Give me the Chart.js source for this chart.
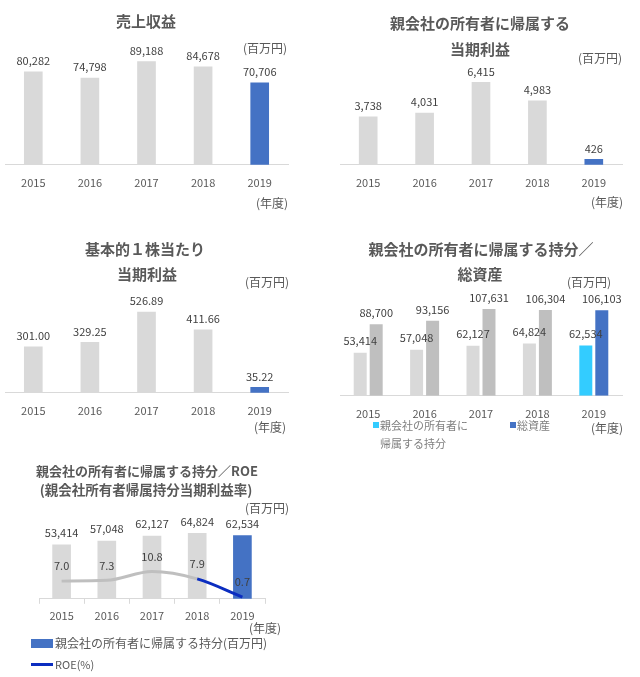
<!DOCTYPE html>
<html lang="ja">
<head>
<meta charset="UTF-8">
<title>業績ハイライト</title>
<script src="https://cdn.jsdelivr.net/npm/chart.js"></script>
<style>
    body { margin: 0; background: #fff; font-family: 'Noto Sans CJK JP', 'Noto Sans', sans-serif; }
    #page { position: relative; width: 640px; height: 677px; overflow: hidden; }
    canvas { position: absolute; }
    .t { position: absolute; width: 300px; text-align: center; line-height: 1; white-space: nowrap; color: #595959; }
    .title { font-size: 15px; font-weight: bold; }
    .unit { font-size: 12px; }
    .lg { position: absolute; line-height: 1; white-space: nowrap; color: #7f7f7f; font-size: 11px; }
    .box { position: absolute; }
</style>
</head>
<body>
<div id="page">
    <canvas id="c1" width="300" height="200" style="left:0;top:0"></canvas>
    <canvas id="c2" width="320" height="200" style="left:320px;top:0"></canvas>
    <canvas id="c3" width="300" height="203" style="left:0;top:225px"></canvas>
    <canvas id="c4" width="320" height="206" style="left:320px;top:225px"></canvas>
    <canvas id="c5" width="300" height="172" style="left:0;top:455px"></canvas>
</div>

<script>
    // データ
    const years = ['2015', '2016', '2017', '2018', '2019'];
    const revenue = [80282, 74798, 89188, 84678, 70706];       // 売上収益
    const netIncome = [3738, 4031, 6415, 4983, 426];            // 親会社の所有者に帰属する当期利益
    const eps = [301.00, 329.25, 526.89, 411.66, 35.22];        // 基本的1株当たり当期利益
    const equity = [53414, 57048, 62127, 64824, 62534];         // 親会社の所有者に帰属する持分
    const totalAssets = [88700, 93156, 107631, 106304, 106103]; // 総資産
    const roe = [7.0, 7.3, 10.8, 7.9, 0.7];                     // ROE(%)

    const FONT = "'Noto Sans CJK JP', 'Noto Sans', sans-serif";
    Chart.defaults.font.family = FONT;
    Chart.defaults.color = '#595959';
    Chart.defaults.animation = false;

    const GRAY = '#d9d9d9';
    const GRAY2 = '#bfbfbf';
    const BLUE = '#4472c4';
    const CYAN = '#33ccff';
    const NAVY = '#0b2dc0';

    const page = document.getElementById('page');

    function addText(txt, cx, cy, cls, size) {
        var d = document.createElement('div');
        d.className = 't ' + cls;
        d.textContent = txt;
        d.style.left = (cx - 150) + 'px';
        d.style.top = (cy - size / 2) + 'px';
        if (cls == 'title' && size != 15) d.style.fontSize = size + 'px';
        page.appendChild(d);
    }

    // 値ラベル（バーの上に数値）
    const valueLabels = {
        id: 'valueLabels',
        afterDatasetsDraw(chart, args, opts) {
            const ctx = chart.ctx;
            ctx.save();
            ctx.font = (opts.size || 11) + 'px ' + FONT;
            ctx.fillStyle = '#404040';
            ctx.textAlign = 'center';
            ctx.textBaseline = 'middle';
            chart.data.datasets.forEach(function (ds, i) {
                const meta = chart.getDatasetMeta(i);
                const off = opts.offsets ? opts.offsets[i] : 12;
                meta.data.forEach(function (el, j) {
                    ctx.fillText(opts.format(ds.data[j], i), el.x, el.y - off);
                });
            });
            ctx.restore();
        }
    };
    Chart.register(valueLabels);

    const intFmt = v => v.toLocaleString('en-US');
    const highlight = (base, last) => years.map((y, i) => i === years.length - 1 ? last : base);

    function xAxis(pad) {
        return {
            grid: { display: false, drawTicks: false },
            border: { display: true, color: GRAY },
            ticks: { padding: pad, font: { size: 11 }, color: '#595959' }
        };
    }

    function simpleBar(id, values, max, padding, fmt) {
        new Chart(document.getElementById(id), {
            type: 'bar',
            data: {
                labels: years,
                datasets: [{
                    data: values,
                    backgroundColor: highlight(GRAY, BLUE),
                    barThickness: 18
                }]
            },
            options: {
                responsive: false,
                layout: { padding: padding },
                plugins: {
                    legend: { display: false },
                    tooltip: { enabled: false },
                    valueLabels: { format: fmt, offsets: [11] }
                },
                scales: {
                    x: xAxis(11),
                    y: { display: false, min: 0, max: max }
                }
            }
        });
    }

    // 1. 売上収益
    simpleBar('c1', revenue, 100000, { top: 49, left: 5, right: 12, bottom: 0 }, intFmt);
    addText('売上収益', 146, 20, 'title', 15);
    addText('(百万円)', 265, 48, 'unit', 12);
    addText('(年度)', 272, 203, 'unit', 12);

    // 2. 親会社の所有者に帰属する当期利益
    simpleBar('c2', netIncome, 8000, { top: 62, left: 20, right: 18, bottom: 0 }, intFmt);
    addText('親会社の所有者に帰属する', 480, 22, 'title', 15);
    addText('当期利益', 480, 48, 'title', 15);
    addText('(百万円)', 600, 58, 'unit', 12);
    addText('(年度)', 607, 202, 'unit', 12);

    // 3. 基本的1株当たり当期利益
    simpleBar('c3', eps, 600, { top: 76, left: 5, right: 12, bottom: 0 }, v => v.toFixed(2));
    addText('基本的１株当たり', 145, 248, 'title', 15);
    addText('当期利益', 147, 273, 'title', 15);
    addText('(百万円)', 267, 282, 'unit', 12);
    addText('(年度)', 270, 427, 'unit', 12);

    // 4. 親会社の所有者に帰属する持分／総資産
    new Chart(document.getElementById('c4'), {
        type: 'bar',
        data: {
            labels: years,
            datasets: [{
                label: '親会社の所有者に帰属する持分',
                data: equity,
                backgroundColor: highlight(GRAY, CYAN),
                categoryPercentage: 0.567,
                barPercentage: 0.8125
            }, {
                label: '総資産',
                data: totalAssets,
                backgroundColor: highlight(GRAY2, BLUE),
                categoryPercentage: 0.567,
                barPercentage: 0.8125
            }]
        },
        options: {
            responsive: false,
            layout: { padding: { top: 66, left: 20, right: 18, bottom: 0 } },
            plugins: {
                legend: { display: false },
                tooltip: { enabled: false },
                valueLabels: { format: intFmt, offsets: [12, 11] }
            },
            scales: {
                x: xAxis(11),
                y: { display: false, min: 0, max: 130000 }
            }
        }
    });
    addText('親会社の所有者に帰属する持分／', 481, 248, 'title', 15);
    addText('総資産', 480, 273, 'title', 15);
    addText('(百万円)', 589, 282, 'unit', 12);
    addText('(年度)', 607, 428, 'unit', 12);

    // 凡例（持分／総資産）
    page.insertAdjacentHTML('beforeend',
        '<div class="box" style="left:373px;top:422px;width:6px;height:6px;background:' + CYAN + '"></div>' +
        '<div class="lg" style="left:380px;top:419.5px">親会社の所有者に</div>' +
        '<div class="lg" style="left:380px;top:437.5px">帰属する持分</div>' +
        '<div class="box" style="left:510px;top:422px;width:6px;height:6px;background:' + BLUE + '"></div>' +
        '<div class="lg" style="left:517px;top:419.5px">総資産</div>');

    // 5. 親会社の所有者に帰属する持分／ROE
    new Chart(document.getElementById('c5'), {
        type: 'bar',
        data: {
            labels: years,
            datasets: [{
                type: 'bar',
                label: '親会社の所有者に帰属する持分(百万円)',
                data: equity,
                backgroundColor: highlight(GRAY, BLUE),
                barThickness: 18,
                yAxisID: 'y',
                order: 2
            }, {
                type: 'line',
                label: 'ROE(%)',
                data: roe,
                yAxisID: 'y1',
                borderWidth: 3,
                borderColor: GRAY2,
                segment: {
                    borderColor: c => c.p1DataIndex === years.length - 1 ? NAVY : GRAY2
                },
                pointRadius: 0,
                cubicInterpolationMode: 'monotone',
                order: 1
            }]
        },
        options: {
            responsive: false,
            layout: { padding: { top: 63, left: 39, right: 35, bottom: 0 } },
            plugins: {
                legend: { display: false },
                tooltip: { enabled: false },
                valueLabels: {
                    format: (v, i) => i === 0 ? intFmt(v) : v.toFixed(1),
                    offsets: [12, 15]
                }
            },
            scales: {
                x: {
                    grid: { display: true, drawOnChartArea: false, drawTicks: true, tickLength: 5, color: GRAY, offset: true },
                    border: { display: true, color: GRAY },
                    ticks: { padding: 5, font: { size: 11 }, color: '#595959' }
                },
                y: { display: false, min: 0, max: 80000 },
                y1: { display: false, min: 0, max: 32 }
            }
        }
    });
    addText('親会社の所有者に帰属する持分／ROE', 147, 470, 'title', 13);
    addText('(親会社所有者帰属持分当期利益率)', 146, 490, 'title', 13.5);
    addText('(百万円)', 267, 508, 'unit', 12);
    addText('(年度)', 265, 628, 'unit', 12);

    // 凡例（持分／ROE）
    page.insertAdjacentHTML('beforeend',
        '<div class="box" style="left:31px;top:639px;width:22px;height:9px;background:' + BLUE + '"></div>' +
        '<div class="lg" style="left:55px;top:637px;font-size:12px;color:#595959">親会社の所有者に帰属する持分(百万円)</div>' +
        '<div class="box" style="left:31px;top:662.5px;width:22px;height:3px;background:' + NAVY + '"></div>' +
        '<div class="lg" style="left:55px;top:658.5px;color:#595959">ROE(%)</div>');
</script>
</body>
</html>
